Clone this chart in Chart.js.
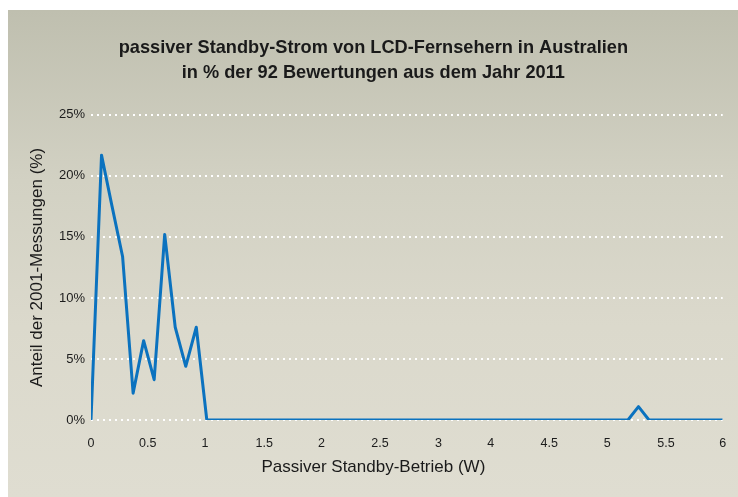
<!DOCTYPE html>
<html>
<head>
<meta charset="utf-8">
<script src="https://cdn.jsdelivr.net/npm/chart.js@4.4.0/dist/chart.umd.min.js"></script>
<style>
  html, body { margin: 0; padding: 0; background: #fff; overflow: hidden; }
  #panel {
    position: absolute; left: 8px; top: 10px; width: 730px; height: 487px;
    background: linear-gradient(to bottom, #bfbfaf 0%, #d2d1c3 35%, #dbd9cc 65%, #dfddd1 100%);
  }
  #myChart { position: absolute; left: 0; top: 0; }
</style>
</head>
<body>
<div id="panel"></div>
<canvas id="myChart" width="738" height="497"></canvas>
<script>
// standby power (W) and share of the 92 ratings (%)
const standbyW = [
  0, 0.1, 0.2, 0.3, 0.4, 0.5, 0.6, 0.7, 0.8, 0.9,
  1.0, 1.1, 1.2, 1.3, 1.4, 1.5, 1.6, 1.7, 1.8, 1.9,
  2.0, 2.1, 2.2, 2.3, 2.4, 2.5, 2.6, 2.7, 2.8, 2.9,
  3.0, 3.1, 3.2, 3.3, 3.4, 3.5, 3.6, 3.7, 3.8, 3.9,
  4.0, 4.1, 4.2, 4.3, 4.4, 4.5, 4.6, 4.7, 4.8, 4.9,
  5.0, 5.1, 5.2, 5.3, 5.4, 5.5, 5.6, 5.7, 5.8, 5.9,
  6.0
];
const sharePct = [
  0, 21.7, 17.5, 13.4, 2.2, 6.5, 3.3, 15.2, 7.6, 4.4,
  7.6, 0, 0, 0, 0, 0, 0, 0, 0, 0,
  0, 0, 0, 0, 0, 0, 0, 0, 0, 0,
  0, 0, 0, 0, 0, 0, 0, 0, 0, 0,
  0, 0, 0, 0, 0, 0, 0, 0, 0, 0,
  0, 0, 1.1, 0, 0, 0, 0, 0, 0, 0,
  0
];

// x axis labels as printed, and where they sit on the axis
const xTickLabels = ['0', '0.5', '1', '1.5', '2', '2.5', '3', '4', '4.5', '5', '5.5', '6'];
const xTickAt = [0, 0.539, 1.083, 1.646, 2.19, 2.745, 3.30, 3.797, 4.353, 4.904, 5.462, 6];
const yTicks = [0, 5, 10, 15, 20, 25];

const titleLines = ['passiver Standby-Strom von LCD-Fernsehern in Australien', 'in % der 92 Bewertungen aus dem Jahr 2011'];
const xTitle = 'Passiver Standby-Betrieb (W)';
const yTitle = 'Anteil der 2001-Messungen (%)';

Chart.defaults.font.family = '"Liberation Sans", Arial, Helvetica, sans-serif';
Chart.defaults.color = '#1c1c1c';

const ctx = document.getElementById('myChart').getContext('2d');
const myChart = new Chart(ctx, {
  type: 'line',
  data: {
    datasets: [{
      data: standbyW.map((w, i) => ({ x: w, y: sharePct[i] })),
      borderColor: '#0b72bf',
      borderWidth: 3,
      borderJoinStyle: 'round',
      pointRadius: 0,
      tension: 0,
      fill: false
    }]
  },
  options: {
    responsive: false,
    animation: false,
    layout: { padding: { left: 24, right: 15.3, top: 0, bottom: 0 } },
    plugins: {
      legend: { display: false },
      tooltip: { enabled: false },
      title: {
        display: true,
        text: titleLines,
        color: '#1a1a1a',
        font: { size: 18.2, weight: 'bold', lineHeight: 1.37 },
        padding: { top: 36, bottom: 29 }
      },
      subtitle: {
        display: true,
        position: 'bottom',
        text: xTitle,
        color: '#1a1a1a',
        font: { size: 17, lineHeight: 1.2 },
        padding: { top: 0, bottom: 19 }
      }
    },
    scales: {
      x: {
        type: 'linear',
        min: 0,
        max: 6,
        afterBuildTicks: s => { s.ticks = xTickAt.map(v => ({ value: v })); },
        afterFit: s => {
          s.height = 37.6;
          // tick padding is only meant to push labels down, not in from the sides
          s.paddingLeft = 0;
          s.paddingRight = 4;
        },
        grid: { display: false, drawTicks: false },
        border: { display: false },
        ticks: {
          autoSkip: false,
          maxRotation: 0,
          padding: 16,
          font: { size: 12.5 },
          callback: (v, i) => xTickLabels[i]
        }
      },
      y: {
        min: 0,
        max: 25,
        afterBuildTicks: s => { s.ticks = yTicks.map(v => ({ value: v })); },
        afterFit: s => { s.width = 67; },
        grid: { color: '#ffffff', lineWidth: 2, drawTicks: false },
        border: { display: false, dash: [2, 4] },
        ticks: {
          padding: 6,
          font: { size: 13 },
          callback: v => v + '%'
        },
        title: {
          display: true,
          text: yTitle,
          color: '#1a1a1a',
          font: { size: 17, lineHeight: 1.2 },
          padding: { top: 3, bottom: 0 }
        }
      }
    }
  }
});
</script>
</body>
</html>
